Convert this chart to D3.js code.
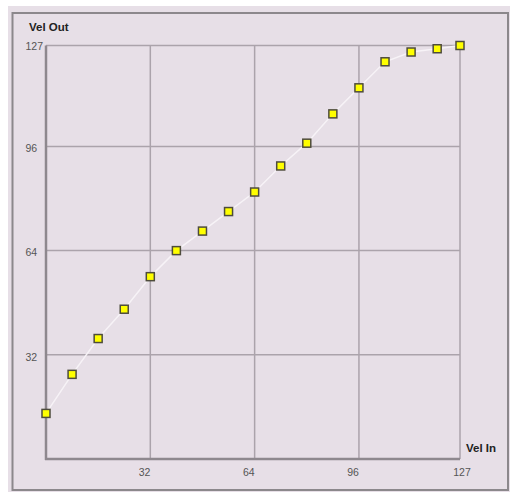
<!DOCTYPE html>
<html><head><meta charset="utf-8">
<script src="https://cdn.jsdelivr.net/npm/d3@7"></script>
<style>html,body{margin:0;padding:0;background:#fff;}svg{display:block;}</style>
</head><body>
<script>
const velIn  = [0, 8, 16, 24, 32, 40, 48, 56, 64, 72, 80, 88, 96, 104, 112, 120, 127];
const velOut = [14, 26, 37, 46, 56, 64, 70, 76, 82, 90, 97, 106, 114, 122, 125, 126, 127];
const tickValues = [32, 64, 96, 127];
const xTitle = "Vel In";
const yTitle = "Vel Out";

const W = 510, H = 492;
const svg = d3.select("body").append("svg").attr("width", W).attr("height", H);

svg.append("rect").attr("x", 8).attr("y", 6).attr("width", W - 8).attr("height", H - 6).attr("fill", "#e7dfe7");
svg.append("rect").attr("x", 12.5).attr("y", 13).attr("width", 495.5).attr("height", 477)
  .attr("fill", "none").attr("stroke", "#8c888c").attr("stroke-width", 2);

const x = d3.scaleLinear().domain([0, 127]).range([46, 460]);
const y = d3.scaleLinear().domain([0, 127]).range([459, 45.5]);

// grid
const g = svg.append("g");
g.selectAll("line.v").data(tickValues).join("line")
  .attr("x1", d => x(d)).attr("x2", d => x(d)).attr("y1", y(0)).attr("y2", y(127))
  .attr("stroke", "#aba3ab").attr("stroke-width", 1.5);
g.selectAll("line.h").data(tickValues).join("line")
  .attr("y1", d => y(d)).attr("y2", d => y(d)).attr("x1", x(0)).attr("x2", x(127))
  .attr("stroke", "#aba3ab").attr("stroke-width", 1.5);

// axes lines
svg.append("line").attr("x1", x(0)).attr("x2", x(0)).attr("y1", y(0) + 1).attr("y2", y(127))
  .attr("stroke", "#8e888e").attr("stroke-width", 2.5);
svg.append("line").attr("x1", x(0) - 1).attr("x2", x(127)).attr("y1", y(0)).attr("y2", y(0))
  .attr("stroke", "#8e888e").attr("stroke-width", 2.5);

// tick labels
const font = "'Liberation Sans', Arial, sans-serif";
svg.selectAll("text.yt").data(tickValues).join("text")
  .attr("x", 25.5).attr("y", d => y(d) + (d === 127 ? 1.5 : 3))
  .attr("dominant-baseline", "middle")
  .attr("font-family", font).attr("font-size", 10.5).attr("fill", "#555")
  .text(d => d);
svg.selectAll("text.xt").data(tickValues).join("text")
  .attr("x", d => d === 127 ? x(d) + 2 : x(d))
  .attr("text-anchor", d => d === 127 ? "middle" : "end")
  .attr("y", 473).attr("dominant-baseline", "middle")
  .attr("font-family", font).attr("font-size", 10.5).attr("fill", "#555")
  .text(d => d);

// titles
svg.append("text").attr("x", 29).attr("y", 28).attr("dominant-baseline", "middle")
  .attr("font-family", font).attr("font-weight", "bold").attr("font-size", 11.5).attr("fill", "#222")
  .text(yTitle);
svg.append("text").attr("x", 466).attr("y", 449).attr("dominant-baseline", "middle")
  .attr("font-family", font).attr("font-weight", "bold").attr("font-size", 11.5).attr("fill", "#222")
  .text(xTitle);

// line
const pts = velIn.map((v, i) => [v, velOut[i]]);
svg.append("path").datum(pts)
  .attr("d", d3.line().x(d => x(d[0])).y(d => y(d[1])))
  .attr("fill", "none").attr("stroke", "#f7f3f7").attr("stroke-width", 1.5);

// markers
const s = 8;
svg.selectAll("rect.m").data(pts).join("rect")
  .attr("x", d => x(d[0]) - s / 2).attr("y", d => y(d[1]) - s / 2)
  .attr("width", s).attr("height", s)
  .attr("fill", "#ffff00").attr("stroke", "#4e4c3c").attr("stroke-width", 1.5);
</script>
</body></html>
